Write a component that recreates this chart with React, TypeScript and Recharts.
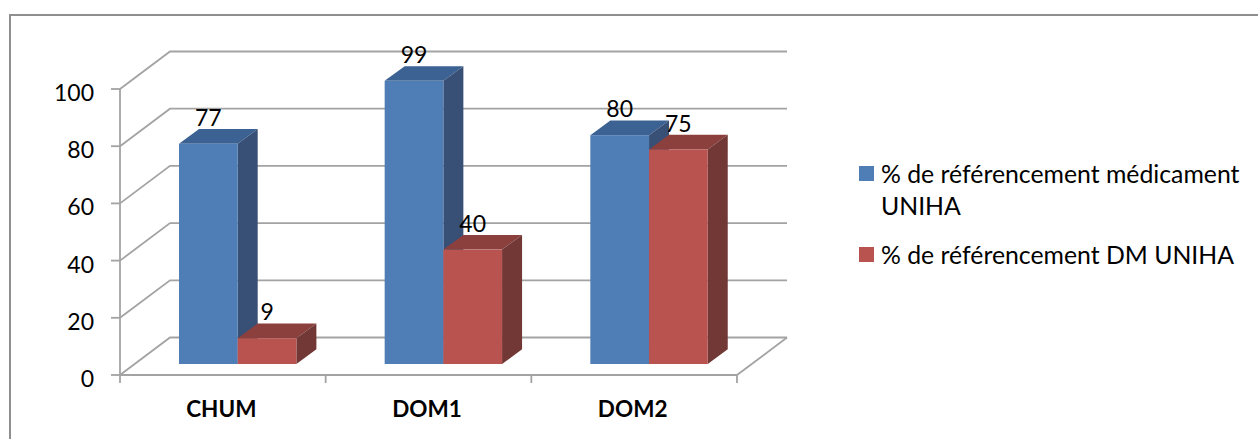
import { Bar, BarChart, CartesianGrid, LabelList, Legend, XAxis, YAxis } from "recharts";

const categories = ["CHUM", "DOM1", "DOM2"];
const medicament = [77, 99, 80];
const dm = [9, 40, 75];
const yTicks = [0, 20, 40, 60, 80, 100];
const seriesNames = ["% de référencement médicament UNIHA", "% de référencement DM UNIHA"];

const data = categories.map((name, i) => ({ name, medicament: medicament[i], dm: dm[i] }));

const FONT = "Lato, sans-serif";
const GRID = "#a3a3a3";
const BAND = 205.67;
// how far the back wall sits behind the front plane
const WALL_X = 50;
const WALL_Y = 37.5;
// bars stand a little in from the front edge of the floor
const BAR_X = 15;
const BAR_Y = 11;
const DEPTH_X = 20;
const DEPTH_Y = 14.7;

const makeBar = (front: string, top: string, side: string) => (props: any) => {
  const x = props.x + BAR_X;
  const y = props.y - BAR_Y;
  const { width: w, height: h } = props;
  return (
    <g>
      <polygon
        points={`${x},${y} ${x + DEPTH_X},${y - DEPTH_Y} ${x + w + DEPTH_X},${y - DEPTH_Y} ${x + w},${y}`}
        fill={top}
      />
      <polygon
        points={`${x + w},${y} ${x + w + DEPTH_X},${y - DEPTH_Y} ${x + w + DEPTH_X},${y + h - DEPTH_Y} ${x + w},${y + h}`}
        fill={side}
      />
      <rect x={x} y={y} width={w} height={h} fill={front} />
    </g>
  );
};

const BarValue = (props: any) => (
  <text
    x={props.x + BAR_X + props.width / 2}
    y={props.y - BAR_Y - 27}
    textAnchor="middle"
    dominantBaseline="central"
    fontFamily={FONT}
    fontSize={23}
    fill="#000"
  >
    {props.value}
  </text>
);

const GridLine = (props: any) => {
  const { x1, y1, x2 } = props;
  const back = y1 - WALL_Y;
  return (
    <polyline
      key={props.key}
      points={`${x1},${y1} ${x1 + WALL_X},${back} ${x2 + WALL_X},${back}`}
      fill="none"
      stroke={GRID}
      strokeWidth={1.8}
    />
  );
};

const CategoryTick = (props: any) => {
  const { x, y, index, payload } = props;
  const left = x - BAND / 2;
  const right = x + BAND / 2;
  const axisY = y - 8;
  return (
    <g>
      <line x1={left} y1={axisY} x2={left} y2={axisY + 8} stroke={GRID} strokeWidth={1.8} />
      {index === categories.length - 1 && (
        <>
          <line x1={right} y1={axisY} x2={right} y2={axisY + 8} stroke={GRID} strokeWidth={1.8} />
          <line x1={right} y1={axisY} x2={right + WALL_X} y2={axisY - WALL_Y} stroke={GRID} strokeWidth={1.8} />
        </>
      )}
      <text x={x - 1.5} y={axisY + 42} textAnchor="middle" fontFamily={FONT} fontWeight={700} fontSize={22.5} fill="#000">
        {payload.value}
      </text>
    </g>
  );
};

const ValueTick = (props: any) => (
  <text x={props.x} y={props.y + 3} textAnchor="end" dominantBaseline="central" fontFamily={FONT} fontSize={23} fill="#000">
    {props.payload.value}
  </text>
);

const LegendBox = () => (
  <div style={{ fontFamily: FONT, fontSize: 24.8, color: "#000", lineHeight: "32px", whiteSpace: "nowrap" }}>
    <div style={{ position: "relative", paddingLeft: 22 }}>
      <span style={{ position: "absolute", left: 0, top: 8, width: 15, height: 15, background: "#4f7db5" }} />
      % de référencement médicament
      <br />
      UNIHA
    </div>
    <div style={{ position: "relative", paddingLeft: 22, marginTop: 17 }}>
      <span style={{ position: "absolute", left: 0, top: 8, width: 15, height: 15, background: "#b9534f" }} />
      {seriesNames[1]}
    </div>
  </div>
);

export default function App() {
  return (
    <div style={{ position: "absolute", left: 0, top: 0, width: 1258, height: 439, background: "#fff", overflow: "hidden" }}>
      <div
        style={{
          position: "absolute",
          left: 9,
          top: 14,
          width: 1260,
          height: 440,
          border: "2px solid #8f8f8f",
        }}
      />
      <BarChart
        width={1258}
        height={439}
        data={data}
        barSize={58.7}
        barGap={0}
        margin={{ top: 89, right: 141, bottom: 24, left: 60 }}
        style={{ position: "absolute", left: 0, top: 0 }}
      >
        <CartesianGrid vertical={false} horizontal={GridLine} />
        <XAxis dataKey="name" height={40} axisLine={{ stroke: GRID, strokeWidth: 1.8 }} tickLine={false} tick={CategoryTick} interval={0} />
        <YAxis
          width={60}
          domain={[0, 100]}
          ticks={yTicks}
          interval={0}
          axisLine={{ stroke: GRID, strokeWidth: 1.8 }}
          tickLine={{ stroke: GRID, strokeWidth: 1.8 }}
          tickSize={9}
          tickMargin={17}
          tick={ValueTick}
        />
        <Legend
          layout="vertical"
          align="right"
          content={LegendBox}
          wrapperStyle={{ left: 859, top: 158, width: 380, bottom: "auto", right: "auto" }}
        />
        <Bar dataKey="medicament" name={seriesNames[0]} shape={makeBar("#4f7db5", "#3b6292", "#384f76")} isAnimationActive={false}>
          <LabelList dataKey="medicament" content={BarValue} />
        </Bar>
        <Bar dataKey="dm" name={seriesNames[1]} shape={makeBar("#b9534f", "#8b403e", "#713835")} isAnimationActive={false}>
          <LabelList dataKey="dm" content={BarValue} />
        </Bar>
      </BarChart>
    </div>
  );
}
